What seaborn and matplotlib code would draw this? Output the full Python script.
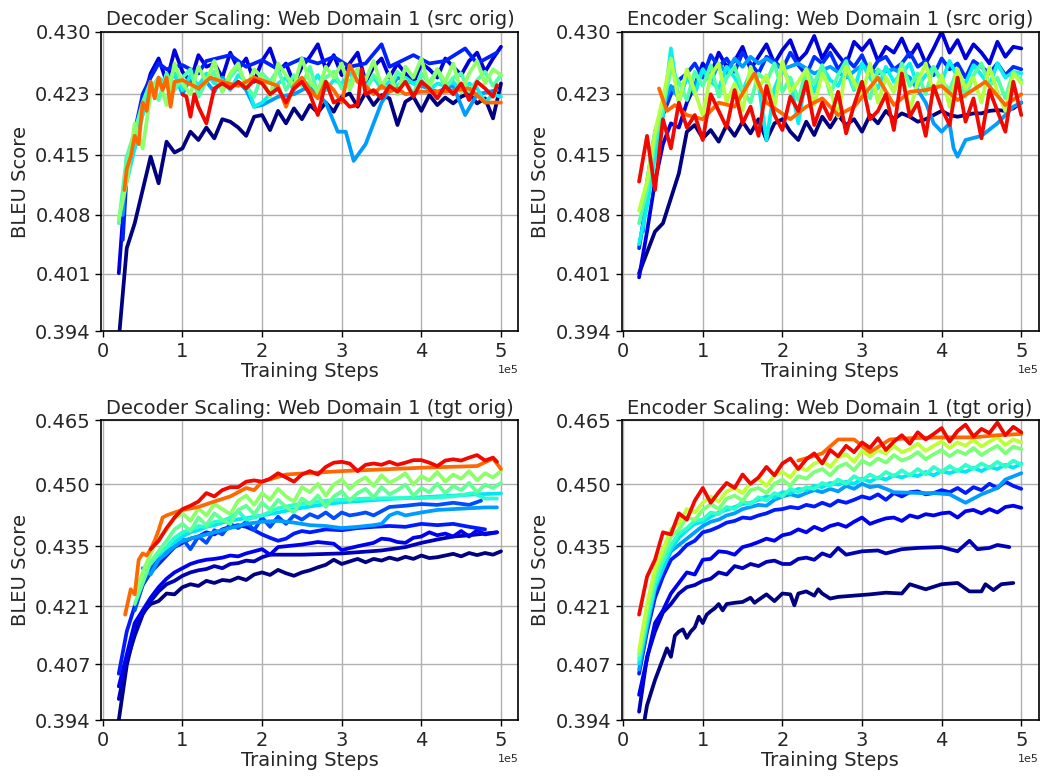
import numpy as np
import matplotlib
matplotlib.use("Agg")
import matplotlib.pyplot as plt
import seaborn as sns
from matplotlib.ticker import FixedLocator, FixedFormatter

# BLEU values are stored x 1e4, training steps in units of 1e4.
# dense runs are evaluated every 1e4 steps starting at the given step.

# ---------- Decoder scaling, src orig (top left) ----------
tl_navy = [3930, 4040, 4070, 4110, 4150, 4118, 4168, 4155, 4160, 4180, 4170, 4185, 4172, 4195, 4192,
           4185, 4175, 4198, 4200, 4182, 4205, 4190, 4208, 4195, 4212, 4203, 4215, 4204, 4222, 4226,
           4210, 4227, 4212, 4224, 4220, 4188, 4216, 4222, 4205, 4224, 4212, 4221, 4214, 4222, 4226,
           4214, 4220, 4196, 4238]
tl_dark = [4010, 4140, 4165, 4215, 4250, 4268, 4240, 4278, 4252, 4240, 4272, 4258, 4262, 4245, 4275,
           4255, 4268, 4240, 4265, 4280, 4252, 4262, 4238, 4258, 4270, 4285, 4255, 4272, 4248, 4262,
           4275, 4240, 4258, 4268, 4245, 4262, 4250, 4238, 4262, 4255, 4245, 4268, 4258, 4248, 4265,
           4275, 4252, 4268, 4282]
tl_blue_x = [2.5, 3, 4, 5, 6, 7, 8, 10, 12, 13, 16, 18, 20, 22, 25, 27, 29, 31, 33, 35, 36, 39, 41, 43,
             45.5, 47, 49.5]
tl_blue = [4050, 4130, 4180, 4225, 4245, 4262, 4255, 4260, 4250, 4265, 4272, 4258, 4266, 4255, 4268,
           4262, 4270, 4258, 4262, 4285, 4258, 4272, 4262, 4265, 4280, 4262, 4275]
tl_azure_x = [2.5, 3, 4, 5, 6, 7, 8, 9, 10, 11, 12, 13, 14, 15, 16, 17, 18, 19, 20, 22, 24, 26, 28,
              29.5, 30.5, 31.5, 33, 35, 37, 40, 42, 44, 45.5, 47, 49.5]
tl_azure = [4080, 4150, 4160, 4210, 4225, 4240, 4235, 4250, 4225, 4245, 4230, 4240, 4228, 4245, 4232,
            4240, 4230, 4210, 4212, 4222, 4225, 4235, 4215, 4180, 4180, 4145, 4165, 4215, 4245, 4235,
            4228, 4235, 4200, 4225, 4230]
tl_sky = [4120, 4160, 4200, 4230, 4245, 4238, 4250, 4230, 4248, 4235, 4250, 4238, 4242, 4230, 4248,
          4240, 4210, 4215, 4225, 4238, 4245, 4230, 4242, 4235, 4248, 4230, 4242, 4238, 4250, 4240,
          4235, 4245, 4232, 4240, 4235, 4245, 4238, 4242, 4230, 4238, 4235, 4240, 4228, 4238, 4232,
          4215, 4225, 4222]
tl_aqua = [4070, 4150, 4180, 4215, 4240, 4218, 4250, 4230, 4245, 4255, 4222, 4240, 4252, 4228, 4245,
           4258, 4235, 4222, 4250, 4240, 4255, 4230, 4248, 4235, 4258, 4225, 4245, 4252, 4232, 4240,
           4255, 4228, 4248, 4238, 4230, 4252, 4242, 4225, 4250, 4238, 4255, 4232, 4245, 4250, 4228,
           4242, 4252, 4235, 4248]
tl_green = [4075, 4120, 4190, 4160, 4225, 4245, 4212, 4262, 4238, 4225, 4258, 4240, 4265, 4228, 4250,
            4262, 4232, 4255, 4245, 4222, 4262, 4248, 4235, 4268, 4240, 4228, 4258, 4245, 4262, 4230,
            4255, 4242, 4265, 4235, 4250, 4225, 4258, 4245, 4268, 4232, 4255, 4240, 4262, 4228, 4250,
            4265, 4238, 4255, 4248]
tl_orange_x = [2.7, 3, 3.5, 4, 4.5, 5, 5.5, 6, 6.5, 7, 7.5, 8, 8.5, 9, 10, 12, 13.5, 15, 17, 19, 20.5,
               22, 23, 24, 25, 26, 27, 28, 29, 30, 31, 32, 33, 34, 35, 36, 37, 38, 40, 43, 46, 48, 50]
tl_orange = [4110, 4135, 4150, 4175, 4165, 4215, 4205, 4240, 4220, 4245, 4230, 4245, 4210, 4240, 4242,
             4232, 4245, 4240, 4235, 4245, 4240, 4235, 4210, 4235, 4245, 4230, 4220, 4240, 4230, 4215,
             4260, 4240, 4235, 4225, 4235, 4228, 4232, 4225, 4228, 4228, 4232, 4215, 4215]
tl_red_x = [10, 10.5, 11, 11.5, 12, 13, 14, 15, 16, 17, 18, 19, 20, 21, 22, 23, 24, 25, 26, 27, 28, 29,
            30, 31, 32, 32.5, 33, 34, 35, 36, 37, 38, 39, 40, 41, 42, 43, 44, 45, 46, 47, 48, 49, 49.5]
tl_red = [4225, 4222, 4198, 4225, 4210, 4190, 4232, 4238, 4232, 4240, 4232, 4242, 4238, 4225, 4232,
          4215, 4232, 4240, 4225, 4200, 4240, 4215, 4220, 4210, 4212, 4255, 4225, 4230, 4220, 4235,
          4228, 4240, 4222, 4240, 4232, 4220, 4235, 4225, 4238, 4218, 4240, 4232, 4222, 4236]

# ---------- Encoder scaling, src orig (top right) ----------
tr_navy = [4010, 4035, 4060, 4070, 4100, 4130, 4180, 4188, 4172, 4182, 4168, 4188, 4175, 4192, 4178,
           4195, 4170, 4190, 4195, 4180, 4170, 4192, 4176, 4198, 4185, 4200, 4188, 4195, 4180, 4200,
           4190, 4205, 4195, 4202, 4198, 4192, 4195, 4200, 4205, 4200, 4198, 4200, 4202, 4202, 4205,
           4206, 4205, 4208, 4215]
tr_dark = [4005, 4060, 4120, 4165, 4190, 4185, 4215, 4235, 4262, 4248, 4275, 4258, 4265, 4282, 4255,
           4270, 4285, 4262, 4278, 4290, 4265, 4275, 4295, 4268, 4285, 4272, 4260, 4288, 4278, 4290,
           4265, 4282, 4275, 4292, 4270, 4285, 4262, 4280, 4300, 4275, 4290, 4268, 4285, 4275, 4262,
           4288, 4270, 4282, 4280]
tr_blue = [4040, 4100, 4160, 4200, 4225, 4242, 4250, 4262, 4245, 4272, 4258, 4268, 4252, 4275, 4262,
           4250, 4270, 4265, 4255, 4275, 4260, 4248, 4270, 4262, 4275, 4255, 4268, 4258, 4272, 4250,
           4265, 4270, 4255, 4262, 4275, 4258, 4265, 4248, 4268, 4255, 4262, 4245, 4265, 4258, 4250,
           4262, 4248, 4258, 4255]
tr_azure_x = [2.5, 3, 4, 5, 6, 7, 8, 9, 10, 11, 12, 13, 14, 15, 16, 17, 18, 20, 22, 24, 26, 28, 30, 32,
              34, 36, 38, 39, 40, 41, 41.5, 42, 43, 45, 47, 48, 49, 50]
tr_azure = [4060, 4120, 4180, 4210, 4235, 4220, 4245, 4235, 4255, 4240, 4262, 4250, 4268, 4258, 4270,
            4262, 4268, 4255, 4262, 4250, 4258, 4245, 4260, 4250, 4255, 4245, 4215, 4190, 4180, 4190,
            4160, 4150, 4170, 4175, 4190, 4200, 4210, 4215]
tr_cyan = [4045, 4090, 4150, 4200, 4280, 4215, 4248, 4225, 4255, 4240, 4232, 4258, 4245, 4228, 4252,
           4238, 4170, 4232, 4255, 4240, 4190, 4248, 4228, 4258, 4242, 4235, 4255, 4230, 4262, 4245,
           4232, 4258, 4240, 4250, 4262, 4235, 4248, 4258, 4240, 4265, 4245, 4238, 4260, 4248, 4235,
           4262, 4245, 4252, 4250]
tr_aqua = [4070, 4110, 4170, 4210, 4255, 4240, 4218, 4252, 4235, 4260, 4222, 4245, 4258, 4230, 4215,
           4250, 4240, 4262, 4228, 4245, 4218, 4255, 4238, 4260, 4225, 4248, 4265, 4232, 4240, 4220,
           4255, 4245, 4228, 4262, 4235, 4250, 4225, 4258, 4240, 4230, 4255, 4222, 4248, 4262, 4235,
           4245, 4220, 4252, 4242]
tr_lime = [4085, 4120, 4180, 4220, 4268, 4215, 4255, 4228, 4200, 4248, 4262, 4215, 4238, 4205, 4258,
           4232, 4248, 4210, 4265, 4228, 4240, 4255, 4212, 4250, 4232, 4198, 4258, 4240, 4222, 4262,
           4215, 4245, 4228, 4255, 4205, 4240, 4262, 4225, 4248, 4210, 4255, 4232, 4245, 4215, 4258,
           4228, 4205, 4250, 4238]
tr_orange_x = [4.5, 5.5, 6.5, 8, 10, 12, 14, 16.5, 18, 21, 23, 25, 27, 29, 32, 34, 36, 38, 40, 42,
               45.5, 48, 50]
tr_orange = [4232, 4205, 4212, 4200, 4195, 4215, 4210, 4250, 4215, 4195, 4210, 4220, 4200, 4210, 4245,
             4212, 4228, 4230, 4235, 4218, 4240, 4212, 4225]
tr_red = [4120, 4175, 4110, 4195, 4160, 4215, 4185, 4200, 4170, 4225, 4205, 4185, 4230, 4190, 4210,
          4175, 4235, 4200, 4182, 4222, 4205, 4240, 4188, 4215, 4195, 4228, 4178, 4212, 4240, 4195,
          4205, 4225, 4182, 4250, 4198, 4215, 4175, 4235, 4208, 4188, 4245, 4192, 4220, 4172, 4230,
          4205, 4180, 4240, 4200]

# ---------- Decoder scaling, tgt orig (bottom left) ----------
bl_navy = [3940, 4070, 4150, 4195, 4215, 4222, 4240, 4238, 4255, 4262, 4258, 4270, 4265, 4272, 4270,
           4278, 4272, 4285, 4290, 4284, 4296, 4288, 4282, 4290, 4295, 4302, 4308, 4320, 4310, 4316,
           4322, 4314, 4322, 4318, 4325, 4320, 4327, 4322, 4330, 4324, 4326, 4330, 4334, 4328, 4336,
           4331, 4336, 4332, 4340]
bl_dark1_x = [2, 3, 4, 5, 6, 7, 8, 9, 10, 11, 12, 13, 14, 15, 16, 17, 18, 19, 20, 21, 25, 30, 35, 38,
              40, 42, 44, 46, 48, 49.5]
bl_dark1 = [3990, 4080, 4140, 4190, 4222, 4245, 4262, 4270, 4282, 4290, 4295, 4298, 4305, 4300, 4310,
            4312, 4318, 4316, 4326, 4332, 4332, 4335, 4342, 4350, 4360, 4368, 4375, 4378, 4382, 4385]
bl_dark2_x = [2, 3, 4, 5, 6, 7, 8, 9, 10, 11, 12, 13, 14, 15, 16, 17, 18, 19, 20, 21, 22, 23, 25, 27,
              29, 30, 32, 34, 35, 36, 37, 38, 39, 40, 41, 42, 43, 44, 45, 46, 47, 48, 49.5]
bl_dark2 = [4020, 4095, 4170, 4200, 4230, 4255, 4275, 4290, 4300, 4310, 4316, 4320, 4322, 4325, 4330,
            4328, 4335, 4340, 4345, 4332, 4350, 4352, 4356, 4362, 4358, 4343, 4352, 4360, 4370, 4368,
            4362, 4360, 4372, 4375, 4385, 4378, 4382, 4375, 4388, 4375, 4390, 4380, 4385]
bl_blue_x = [2, 3, 4, 5, 6, 7, 8, 9, 10, 11, 12, 13, 14, 15, 16, 17, 18, 19, 20, 21, 22, 23, 24, 25,
             26, 28, 30, 32, 34, 36, 38, 40, 42, 44, 46, 48]
bl_blue = [4050, 4150, 4210, 4260, 4290, 4310, 4330, 4350, 4360, 4370, 4375, 4385, 4380, 4392, 4398,
           4402, 4398, 4390, 4380, 4372, 4365, 4370, 4382, 4388, 4385, 4392, 4390, 4395, 4398, 4400,
           4398, 4405, 4402, 4405, 4398, 4392]
bl_blue2_x = [4, 5, 6, 7, 8, 9, 10, 11, 12, 13, 14, 15, 16, 17, 18, 19, 20, 21, 22, 23, 24, 25, 26,
              27, 28, 29, 30, 31, 32, 33, 34, 35, 36, 38, 40, 42, 44, 46, 47.5]
bl_blue2 = [4200, 4260, 4300, 4320, 4340, 4350, 4370, 4345, 4375, 4360, 4390, 4380, 4405, 4395, 4410,
            4390, 4420, 4398, 4422, 4405, 4425, 4415, 4428, 4420, 4432, 4418, 4432, 4425, 4428, 4432,
            4425, 4435, 4445, 4448, 4452, 4450, 4455, 4450, 4460]
bl_azure_x = [5, 6, 7, 8, 9, 10, 12, 14, 16, 18, 20, 22, 24, 26, 28, 30, 32, 34, 35, 36, 37, 38, 40,
              42, 44, 46, 48, 49.5]
bl_azure = [4300, 4285, 4320, 4335, 4352, 4365, 4375, 4385, 4395, 4405, 4410, 4412, 4408, 4402, 4400,
            4395, 4398, 4402, 4405, 4425, 4432, 4425, 4432, 4438, 4440, 4442, 4444, 4444]
bl_sky_x = [7, 8, 9, 10, 11, 12, 13, 14, 15, 16, 17, 18, 19, 20, 22, 24, 26, 28, 30, 33, 36, 40, 44,
            47, 50]
bl_sky = [4330, 4348, 4362, 4375, 4385, 4390, 4398, 4402, 4408, 4412, 4416, 4418, 4422, 4425, 4432,
          4440, 4446, 4452, 4456, 4460, 4464, 4468, 4472, 4475, 4477]
bl_cyan_x = [6, 7, 8, 9, 10, 11, 12, 13, 14, 15, 16, 17, 18, 19, 20, 22, 24, 26, 28, 30, 33, 36, 40,
             44, 46.5, 48, 49.5]
bl_cyan = [4310, 4335, 4350, 4372, 4385, 4392, 4400, 4398, 4410, 4412, 4420, 4435, 4415, 4420, 4425,
           4442, 4450, 4455, 4460, 4462, 4465, 4466, 4466, 4470, 4478, 4465, 4465]
bl_aqua = [4215, 4265, 4315, 4340, 4365, 4392, 4405, 4388, 4420, 4402, 4430, 4415, 4405, 4438, 4448,
           4428, 4455, 4438, 4462, 4445, 4432, 4465, 4452, 4472, 4445, 4470, 4482, 4460, 4478, 4488,
           4468, 4492, 4475, 4485, 4498, 4472, 4490, 4480, 4500, 4478, 4495, 4485, 4502, 4480, 4498,
           4490, 4502]
bl_green = [4240, 4290, 4335, 4370, 4390, 4418, 4430, 4412, 4442, 4425, 4452, 4440, 4428, 4460, 4472,
            4450, 4478, 4462, 4488, 4470, 4458, 4492, 4480, 4500, 4472, 4498, 4510, 4488, 4505, 4515,
            4495, 4520, 4502, 4512, 4525, 4498, 4518, 4508, 4528, 4505, 4522, 4512, 4530, 4508, 4525,
            4515, 4530]
bl_orange_x = [2.8, 3.5, 4, 4.5, 5, 5.5, 6, 6.5, 7, 7.5, 8, 9, 10, 12, 14, 16, 18, 19, 20, 23, 30, 40,
               47, 49, 50]
bl_orange = [4190, 4250, 4238, 4320, 4335, 4330, 4345, 4365, 4390, 4420, 4425, 4432, 4438, 4445, 4458,
             4470, 4490, 4485, 4505, 4522, 4530, 4538, 4542, 4560, 4535]
bl_red_x = [6, 7, 8, 9, 10, 11, 12, 13, 14, 15, 16, 17, 18, 19, 20, 21, 22, 23, 24, 25, 26, 27, 28, 29,
            30, 31, 32, 33, 34, 35, 36, 37, 38, 39, 40, 41, 42, 43, 44, 45, 46, 47, 48, 49, 49.5]
bl_red = [4345, 4365, 4395, 4420, 4440, 4448, 4458, 4478, 4470, 4485, 4492, 4492, 4505, 4508, 4505,
          4512, 4525, 4515, 4505, 4522, 4530, 4522, 4540, 4550, 4552, 4548, 4530, 4545, 4548, 4545,
          4552, 4545, 4550, 4556, 4556, 4550, 4542, 4555, 4558, 4555, 4562, 4568, 4555, 4562, 4552]

# ---------- Encoder scaling, tgt orig (bottom right) ----------
br_navy_x = [2, 2.5, 3, 4, 5, 5.5, 6, 6.5, 7, 7.5, 8, 8.5, 9, 9.5, 10, 10.5, 11, 11.5, 12, 12.5, 13,
             14, 15, 16, 16.5, 17, 18, 19, 20, 21, 21.5, 22, 23, 24, 24.5, 25, 26, 27, 29, 31, 33, 35,
             36, 38, 40, 42, 43.5, 45, 45.5, 46.5, 47.5, 49]
br_navy = [3935, 3920, 3975, 4035, 4085, 4110, 4090, 4140, 4150, 4155, 4135, 4150, 4160, 4185, 4170,
           4190, 4198, 4205, 4215, 4200, 4215, 4218, 4220, 4230, 4218, 4225, 4238, 4222, 4240, 4238,
           4212, 4240, 4245, 4235, 4250, 4240, 4228, 4232, 4235, 4238, 4242, 4240, 4262, 4250, 4262,
           4265, 4245, 4245, 4262, 4248, 4262, 4265]
br_dark1_x = [2, 3, 4, 5, 6, 7, 8, 9, 10, 11, 12, 13, 14, 15, 16, 17, 18, 19, 20, 21, 22, 23, 24, 25,
              26, 27, 28, 30, 32, 33, 35, 37, 40, 42, 43.5, 44.5, 46, 47, 48.5]
br_dark1 = [3960, 4090, 4150, 4195, 4215, 4240, 4255, 4260, 4270, 4275, 4290, 4285, 4305, 4300, 4310,
            4305, 4315, 4318, 4310, 4310, 4322, 4325, 4320, 4335, 4328, 4348, 4332, 4340, 4342, 4335,
            4345, 4348, 4350, 4340, 4365, 4345, 4348, 4355, 4350]
br_dark2 = [4000, 4085, 4170, 4200, 4240, 4265, 4290, 4285, 4320, 4322, 4340, 4338, 4332, 4350, 4355,
            4362, 4370, 4365, 4378, 4382, 4392, 4385, 4398, 4390, 4400, 4405, 4398, 4410, 4420, 4405,
            4412, 4418, 4420, 4412, 4425, 4420, 4428, 4425, 4430, 4432, 4420, 4435, 4438, 4430, 4440,
            4432, 4445, 4448, 4443]
br_blue = [4050, 4150, 4230, 4280, 4320, 4335, 4355, 4365, 4385, 4390, 4398, 4408, 4412, 4420, 4418,
           4425, 4430, 4438, 4440, 4445, 4442, 4450, 4446, 4455, 4448, 4460, 4455, 4462, 4470, 4465,
           4475, 4462, 4478, 4470, 4480, 4482, 4475, 4478, 4485, 4480, 4490, 4478, 4492, 4485, 4500,
           4490, 4505, 4495, 4488]
br_azure_x = [2, 3, 4, 5, 6, 7, 8, 9, 10, 11, 12, 13, 14, 15, 16, 17, 18, 19, 20, 21, 22, 23, 24, 25,
              26, 27, 28, 29, 30, 31, 32, 33, 34, 37.5, 39, 41, 43, 45, 47, 48, 50]
br_azure = [4060, 4160, 4250, 4300, 4340, 4355, 4370, 4385, 4400, 4410, 4415, 4425, 4430, 4440, 4445,
            4450, 4448, 4462, 4470, 4475, 4470, 4478, 4485, 4480, 4488, 4482, 4495, 4488, 4500, 4492,
            4495, 4488, 4480, 4478, 4478, 4475, 4455, 4475, 4490, 4510, 4525]
br_sky = [4075, 4170, 4255, 4300, 4345, 4372, 4390, 4405, 4410, 4422, 4432, 4438, 4445, 4452, 4455,
          4462, 4470, 4468, 4480, 4478, 4488, 4485, 4495, 4492, 4502, 4498, 4505, 4500, 4512, 4505,
          4515, 4510, 4520, 4515, 4522, 4518, 4528, 4520, 4530, 4525, 4532, 4528, 4538, 4530, 4540,
          4535, 4545, 4538, 4548]
br_cyan = [4085, 4180, 4265, 4315, 4355, 4382, 4395, 4412, 4415, 4432, 4428, 4445, 4440, 4458, 4452,
           4468, 4460, 4478, 4470, 4488, 4480, 4492, 4488, 4502, 4495, 4510, 4500, 4518, 4508, 4522,
           4512, 4528, 4518, 4532, 4520, 4535, 4522, 4540, 4528, 4542, 4530, 4545, 4535, 4548, 4538,
           4552, 4540, 4555, 4545]
br_aqua = [4095, 4200, 4285, 4330, 4375, 4392, 4420, 4415, 4438, 4452, 4440, 4465, 4472, 4460, 4485,
           4490, 4478, 4500, 4510, 4495, 4518, 4512, 4528, 4535, 4520, 4540, 4548, 4532, 4555, 4545,
           4560, 4550, 4568, 4555, 4562, 4575, 4558, 4570, 4580, 4565, 4578, 4570, 4585, 4568, 4580,
           4590, 4572, 4588, 4582]
br_lime = [4105, 4215, 4300, 4345, 4392, 4405, 4440, 4432, 4455, 4470, 4458, 4482, 4490, 4478, 4502,
           4512, 4495, 4520, 4528, 4515, 4540, 4532, 4548, 4555, 4540, 4562, 4570, 4552, 4578, 4565,
           4580, 4572, 4590, 4575, 4582, 4595, 4578, 4590, 4600, 4585, 4598, 4590, 4605, 4588, 4600,
           4610, 4592, 4605, 4598]
br_orange_x = [22, 25, 27, 29, 31, 33.5, 36, 40, 44, 47, 50]
br_orange = [4555, 4572, 4605, 4605, 4575, 4605, 4608, 4610, 4610, 4615, 4618]
br_red = [4190, 4280, 4320, 4385, 4380, 4430, 4415, 4460, 4490, 4455, 4480, 4502, 4490, 4522, 4500,
          4515, 4540, 4520, 4548, 4560, 4535, 4558, 4572, 4548, 4580, 4565, 4590, 4575, 4598, 4585,
          4608, 4580, 4600, 4615, 4595, 4622, 4605, 4618, 4632, 4600, 4625, 4640, 4612, 4630, 4620,
          4645, 4615, 4635, 4622]

titles = ["Decoder Scaling: Web Domain 1 (src orig)", "Encoder Scaling: Web Domain 1 (src orig)",
          "Decoder Scaling: Web Domain 1 (tgt orig)", "Encoder Scaling: Web Domain 1 (tgt orig)"]


def dense(ys, start=2):
    return list(range(start, start + len(ys))), ys


# (x in 1e4 steps, y, position on the jet colormap)
panels = [
    [(dense(tl_navy), 0.0), (dense(tl_dark), 0.08), ((tl_blue_x, tl_blue), 0.16),
     ((tl_azure_x, tl_azure), 0.28), (dense(tl_sky, 3), 0.36), (dense(tl_aqua), 0.45),
     (dense(tl_green), 0.52), ((tl_orange_x, tl_orange), 0.8), ((tl_red_x, tl_red), 0.9)],
    [(dense(tr_navy), 0.0), (dense(tr_dark), 0.08), (dense(tr_blue), 0.17),
     ((tr_azure_x, tr_azure), 0.28), (dense(tr_cyan), 0.36), (dense(tr_aqua), 0.45),
     (dense(tr_lime), 0.57), ((tr_orange_x, tr_orange), 0.8), (dense(tr_red), 0.9)],
    [(dense(bl_navy), 0.0), ((bl_dark1_x, bl_dark1), 0.05), ((bl_dark2_x, bl_dark2), 0.1),
     ((bl_blue_x, bl_blue), 0.15), ((bl_blue2_x, bl_blue2), 0.2), ((bl_azure_x, bl_azure), 0.28),
     ((bl_sky_x, bl_sky), 0.35), ((bl_cyan_x, bl_cyan), 0.4), (dense(bl_aqua, 4), 0.47),
     (dense(bl_green, 4), 0.52), ((bl_orange_x, bl_orange), 0.8), ((bl_red_x, bl_red), 0.9)],
    [((br_navy_x, br_navy), 0.0), ((br_dark1_x, br_dark1), 0.05), (dense(br_dark2), 0.1),
     (dense(br_blue), 0.15), ((br_azure_x, br_azure), 0.28), (dense(br_sky), 0.35),
     (dense(br_cyan), 0.41), (dense(br_aqua), 0.5), (dense(br_lime), 0.58),
     ((br_orange_x, br_orange), 0.8), (dense(br_red), 0.9)],
]
ylims = [(0.394, 0.430), (0.394, 0.430), (0.394, 0.465), (0.394, 0.465)]

sns.set_style("ticks", {"axes.grid": True, "grid.color": "#b0b0b0", "axes.edgecolor": "black"})
plt.rcParams["font.family"] = ["DejaVu Sans"]
jet = plt.get_cmap("jet")

fig, axes = plt.subplots(2, 2, figsize=(10.44, 7.76), dpi=100)
fig.subplots_adjust(left=0.097, right=0.995, top=0.959, bottom=0.072, hspace=0.297, wspace=0.247)

for ax, runs, title, (lo, hi) in zip(axes.flat, panels, titles, ylims):
    for (xs, ys), cpos in runs:
        sns.lineplot(x=np.array(xs) * 1e4, y=np.array(ys) / 1e4, ax=ax, color=jet(cpos),
                     lw=2.7, estimator=None, sort=False)
    ax.set_xlim(-2000, 522000)
    ax.set_ylim(lo, hi)
    yt = np.geomspace(lo, hi, 6)
    ax.yaxis.set_major_locator(FixedLocator(yt))
    ax.yaxis.set_major_formatter(FixedFormatter(["%.3f" % v for v in yt]))
    ax.set_xticks([0, 1e5, 2e5, 3e5, 4e5, 5e5])
    ax.ticklabel_format(style="sci", axis="x", scilimits=(0, 0))
    ax.xaxis.get_offset_text().set_fontsize(8)
    ax.tick_params(labelsize=14, length=4, width=1, color="black")
    ax.set_title(title, fontsize=14, pad=5)
    ax.set_xlabel("Training Steps", fontsize=14, labelpad=1)
    ax.set_ylabel("BLEU Score", fontsize=14, labelpad=4)
    ax.grid(True, color="#b0b0b0", lw=1)
    for s in ax.spines.values():
        s.set_color("black")
        s.set_linewidth(1.2)

fig.savefig("out.png", dpi=100)
